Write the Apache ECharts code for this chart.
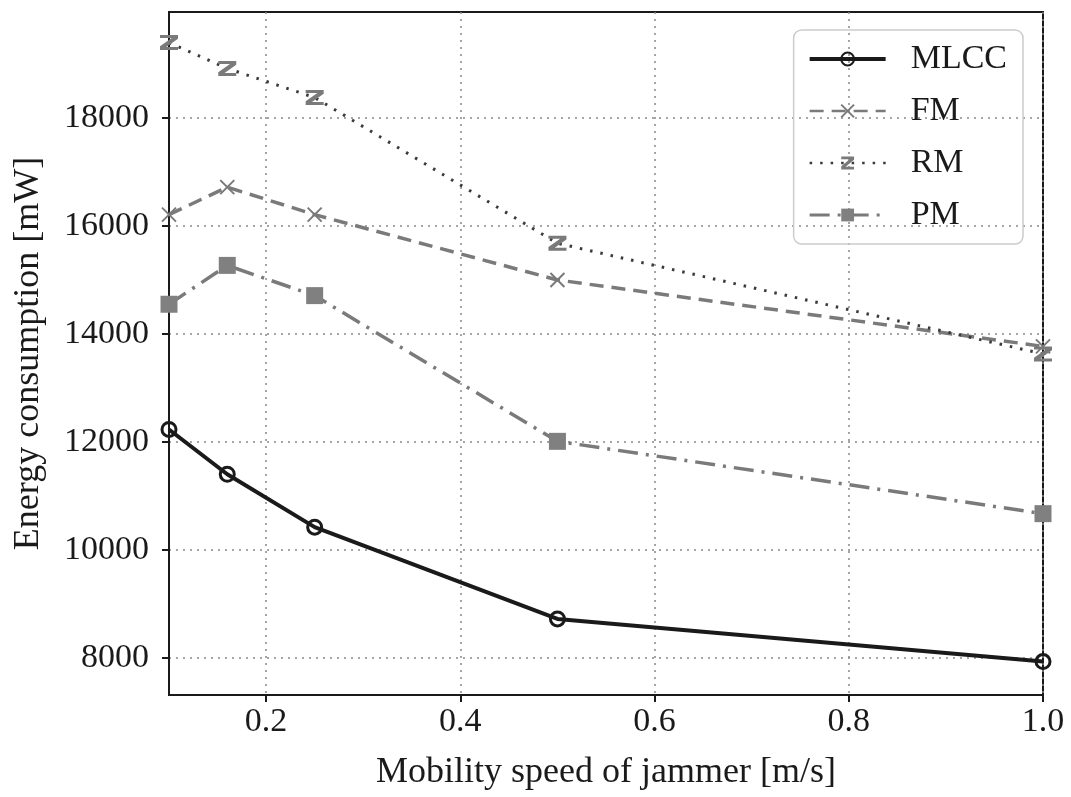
<!DOCTYPE html>
<html>
<head>
<meta charset="utf-8">
<script src="https://cdn.jsdelivr.net/npm/echarts@6/dist/echarts.min.js"></script>
<style>
  html, body { margin: 0; padding: 0; background: #fff; }
  #chart { width: 1071px; height: 797px; }
</style>
</head>
<body>
<div id="chart"></div>
<script>
  const speeds = [0.1, 0.16, 0.25, 0.5, 1.0];
  const mlcc = [12230, 11400, 10420, 8720, 7930];
  const fm = [16210, 16720, 16210, 15000, 13770];
  const rm = [19400, 18920, 18380, 15680, 13630];
  const pm = [14550, 15270, 14710, 12010, 10670];
  const xTicks = [0.2, 0.4, 0.6, 0.8, 1.0];
  const yTicks = [8000, 10000, 12000, 14000, 16000, 18000];

  const serif = "'Liberation Serif', 'DejaVu Serif', serif";
  // Z-ish marker used for RM
  const zPath = "path://M0,0 L10,0 L10,2.5 L3.5,8 L10,8 L10,10 L0,10 L0,7.5 L6.5,2 L0,2 Z";

  const pairs = (ys) => speeds.map((x, i) => [x, ys[i]]);

  const chart = echarts.init(document.getElementById("chart"), null, { renderer: "canvas" });

  chart.setOption({
    backgroundColor: "#fff",
    animation: false,
    grid: {
      left: 169, right: 28, top: 12, bottom: 102,
      show: true, borderColor: "#1a1a1a", borderWidth: 2,
    },
    legend: {
      right: 48, top: 30,
      orient: "vertical",
      itemWidth: 76, itemHeight: 16, itemGap: 14,
      padding: [10, 16, 10, 14],
      borderColor: "#cccccc", borderWidth: 1.5, borderRadius: 8,
      textStyle: { fontFamily: serif, fontSize: 34, color: "#1a1a1a", lineHeight: 38, padding: [0, 0, 0, 20] },
      data: [
        { name: "MLCC", lineStyle: { width: 4 } },
        { name: "FM", lineStyle: { width: 2.5 } },
        { name: "RM", lineStyle: { width: 2.5 } },
        { name: "PM", lineStyle: { width: 3 } },
      ],
    },
    xAxis: {
      type: "value",
      min: 0.1, max: 1.0,
      name: "Mobility speed of jammer [m/s]",
      nameLocation: "middle", nameGap: 60,
      nameTextStyle: { fontFamily: serif, fontSize: 36, color: "#1a1a1a" },
      axisLine: { onZero: false, lineStyle: { color: "#1a1a1a", width: 2 } },
      axisTick: { show: true, length: 7, customValues: xTicks, lineStyle: { color: "#1a1a1a", width: 2 } },
      axisLabel: {
        customValues: xTicks, fontFamily: serif, fontSize: 34, color: "#1a1a1a", margin: 10,
        formatter: (v) => v.toFixed(1),
      },
      splitLine: { show: true, lineStyle: { color: "#888", type: [2, 5], width: 1.5 } },
    },
    yAxis: {
      type: "value",
      min: 7310, max: 19965,
      name: "Energy consumption [mW]",
      nameLocation: "middle", nameGap: 122,
      nameTextStyle: { fontFamily: serif, fontSize: 36, color: "#1a1a1a" },
      axisLine: { show: true, lineStyle: { color: "#1a1a1a", width: 2 } },
      axisTick: { show: true, length: 7, customValues: yTicks, lineStyle: { color: "#1a1a1a", width: 2 } },
      axisLabel: {
        customValues: yTicks,
        fontFamily: serif, fontSize: 34, color: "#1a1a1a", margin: 20,
        formatter: (v) => String(v),
      },
      splitLine: { show: true, lineStyle: { color: "#888", type: [2, 5], width: 1.5 } },
    },
    series: [
      {
        name: "MLCC", type: "line", data: pairs(mlcc),
        symbol: "circle", symbolSize: 14,
        lineStyle: { color: "#1a1a1a", width: 4 },
        itemStyle: { color: "rgba(255,255,255,0)", borderColor: "#1a1a1a", borderWidth: 3 },
        z: 5,
      },
      {
        name: "FM", type: "line", data: pairs(fm),
        symbol: "path://M0,0 L10,10 M10,0 L0,10", symbolSize: 14,
        lineStyle: { color: "#7a7a7a", width: 3.5, type: [14, 8] },
        itemStyle: { color: "#7a7a7a", borderColor: "#7a7a7a", borderWidth: 2 },
      },
      {
        name: "RM", type: "line", data: pairs(rm),
        symbol: zPath, symbolSize: [18, 15],
        lineStyle: { color: "#3a3a3a", width: 3, type: [2.5, 8] },
        itemStyle: { color: "#7a7a7a" },
      },
      {
        name: "PM", type: "line", data: pairs(pm),
        symbol: "rect", symbolSize: 17,
        lineStyle: { color: "#7a7a7a", width: 3.5, type: [20, 8, 3, 8] },
        itemStyle: { color: "#808080" },
      },
    ],
  });

  window.addEventListener("resize", () => chart.resize());
</script>
</body>
</html>
